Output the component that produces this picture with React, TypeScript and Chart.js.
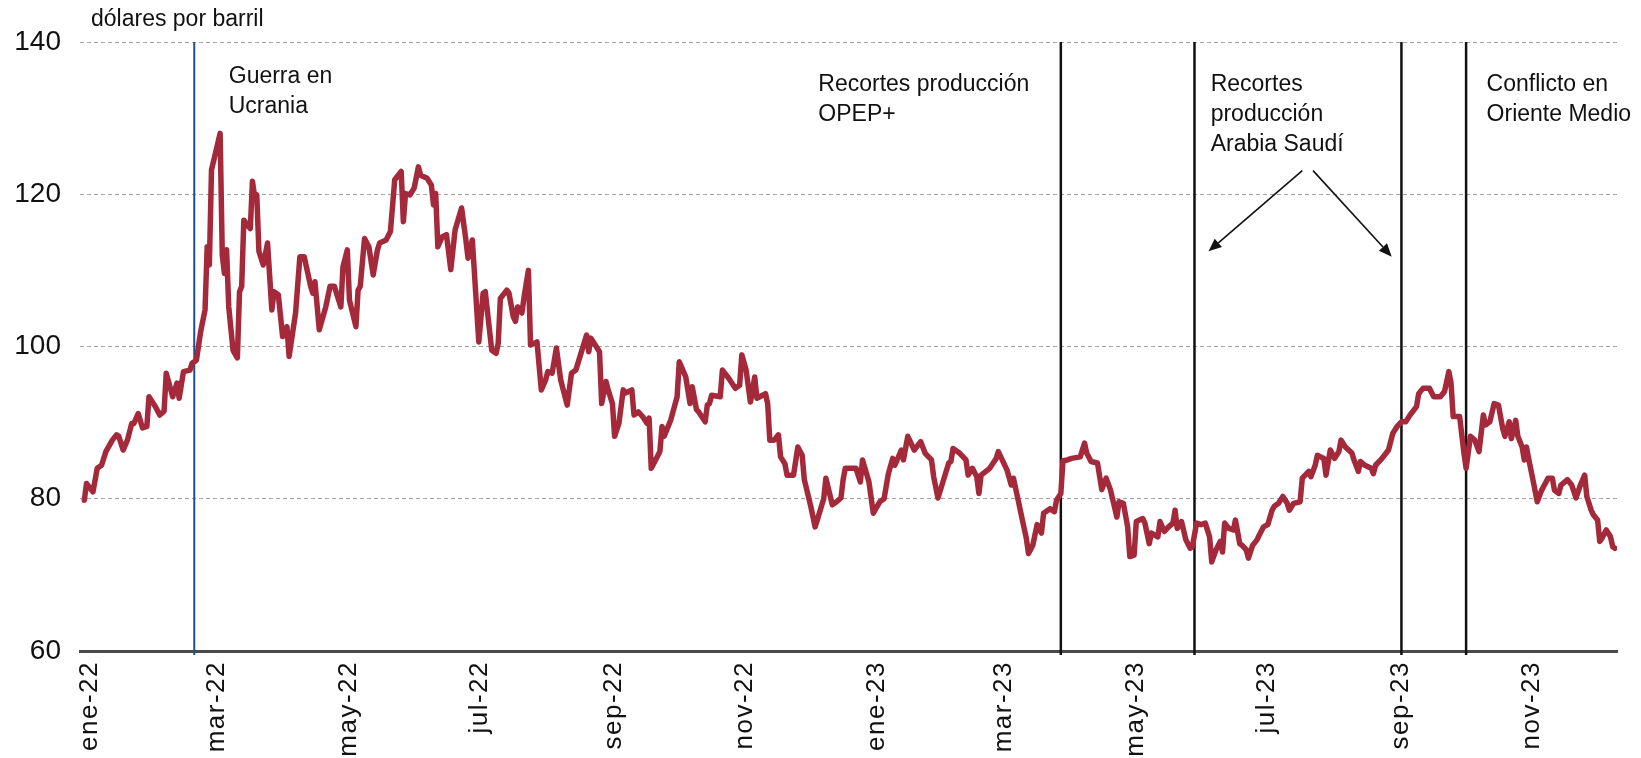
import React, { useEffect, useRef } from "react";
import { Chart, registerables } from "chart.js";

Chart.register(...registerables);

const FONT = "'Liberation Sans', Arial, Helvetica, sans-serif";

// Brent price, dollars per barrel. x = days since 2022-01-01
const days2022 = [
  2, 3, 6, 8, 10, 12, 15, 17, 18, 20, 22, 24, 25, 27, 29, 31, 32, 35, 37, 39,
  40, 43, 45, 46, 48, 51, 52, 54, 56, 58, 59, 60, 61, 65, 66, 67, 68, 69, 71, 73,
  74, 75, 76, 77, 79, 80, 81, 82, 83, 85, 87, 89, 90, 92, 94, 96, 97, 100, 102, 104,
  107, 108, 109, 111, 114, 116, 118, 121, 122, 124, 125, 128, 129, 130, 132, 134, 136, 138, 139, 142,
  144, 146, 149, 150, 151, 153, 155, 157, 158, 161, 163, 164, 165, 166, 168, 170, 172, 174, 177, 179,
  180, 182, 185, 187, 188, 191, 193, 194, 195, 198, 199, 201, 202, 203, 205, 206, 208, 209, 212, 214,
  216, 217, 219, 221, 223, 226, 228, 230, 235, 236, 237, 241, 242, 244, 245, 247, 248, 250, 252, 253,
  256, 257, 259, 261, 263, 264, 265, 267, 269, 270, 271, 274, 277, 278, 281, 283, 284, 286, 287, 290,
  291, 292, 293, 297, 298, 301, 304, 306, 307, 309, 311, 313, 314, 318, 319, 320, 322, 324, 325, 327,
  328, 331, 333, 335, 336, 339, 341, 342, 345, 346, 349, 351, 353, 354, 355, 360, 362, 363,
];
const brent2022 = [
  79.8, 82.0, 80.9, 84.0, 84.4, 86.2, 87.7, 88.4, 88.2, 86.4, 87.7, 89.9, 89.9, 91.2, 89.3, 89.5, 93.4, 92.1, 91.0, 91.5,
  96.5, 93.4, 95.2, 93.2, 96.7, 96.9, 97.8, 98.2, 102.0, 104.8, 113.1, 110.7, 123.2, 128.0, 112.0, 109.6, 112.7, 105.2, 99.5, 98.5,
  107.2, 107.9, 116.6, 116.2, 115.5, 121.7, 119.7, 119.9, 112.5, 110.7, 113.6, 104.8, 107.2, 106.8, 101.3, 102.6, 98.7, 104.4, 111.8, 111.8,
  107.9, 107.0, 108.5, 102.2, 105.2, 107.9, 107.9, 105.2, 110.5, 112.7, 106.1, 102.6, 107.4, 107.9, 114.2, 113.1, 109.4, 112.7, 113.6, 114.0,
  115.1, 121.9, 123.0, 116.4, 120.1, 119.9, 120.8, 123.6, 122.5, 122.1, 121.2, 118.6, 120.1, 113.1, 114.4, 114.7, 110.1, 115.3, 118.2, 114.0,
  111.6, 114.0, 100.6, 107.0, 107.2, 99.5, 99.1, 100.4, 106.3, 107.4, 107.0, 103.9, 103.3, 105.2, 104.4, 106.5, 110.0, 100.2, 100.6, 94.3,
  95.6, 96.7, 96.5, 99.8, 95.6, 92.3, 96.5, 96.9, 101.5, 99.3, 101.1, 99.3, 92.5, 95.4, 94.3, 92.5, 88.2, 89.9, 94.3, 93.9,
  94.3, 91.0, 91.4, 90.8, 89.9, 90.6, 84.0, 85.1, 86.2, 89.5, 88.2, 90.3, 93.4, 98.0, 96.0, 92.5, 94.7, 91.7, 91.4, 90.1,
  92.3, 92.5, 93.6, 93.4, 96.9, 95.8, 94.5, 94.9, 98.9, 96.9, 92.7, 96.0, 93.2, 93.8, 92.5, 87.7, 87.7, 88.4, 85.5, 84.6,
  83.1, 83.1, 86.8, 85.7, 82.5, 79.0, 76.3, 77.2, 80.0, 82.7, 79.2, 79.6, 80.1, 82.5, 84.0, 84.0, 82.2, 85.1,
];
const days2023 = [
  366, 368, 371, 373, 375, 377, 378, 381, 382, 384, 387, 390, 392, 395, 396, 398, 403, 404, 405, 408,
  411, 412, 414, 416, 417, 418, 422, 425, 426, 430, 432, 433, 435, 437, 439, 440, 442, 444, 446, 447,
  450, 452, 453, 455, 456, 458, 460, 464, 465, 466, 467, 469, 472, 474, 476, 478, 481, 482, 484, 486,
  487, 489, 490, 493, 494, 496, 497, 500, 501, 503, 505, 507, 508, 509, 511, 513, 515, 516, 518, 520,
  522, 524, 525, 527, 529, 530, 531, 533, 535, 536, 538, 539, 541, 542, 544, 546, 547, 549, 551, 553,
  554, 556, 558, 560, 561, 563, 566, 567, 570, 571, 573, 574, 577, 578, 580, 582, 584, 585, 587, 590,
  591, 593, 594, 596, 599, 600, 601, 604, 607, 609, 611, 613, 615, 617, 620, 621, 623, 626, 628, 631,
  633, 635, 636, 637, 640, 642, 643, 645, 647, 649, 651, 652, 654, 656, 658, 660, 661, 663, 664, 666,
  667, 669, 670, 671, 672, 674, 676, 678, 681, 683, 684, 686, 687, 690, 692, 694, 696, 698, 699, 701,
  702, 704, 705, 706, 708, 710, 711, 712,
];
const brent2023 = [
  82.2, 78.1, 79.6, 80.0, 83.3, 85.3, 84.4, 86.4, 85.1, 88.2, 86.4, 87.5, 86.0, 85.1, 82.9, 80.1, 84.7, 84.9, 86.6, 86.0,
  85.1, 83.1, 84.0, 82.9, 80.7, 83.1, 84.0, 85.3, 86.2, 83.8, 81.8, 82.7, 80.1, 77.4, 74.8, 72.8, 73.9, 76.6, 75.5, 78.1,
  78.7, 78.3, 79.8, 80.7, 85.0, 85.1, 85.3, 85.5, 86.4, 87.3, 86.0, 84.9, 84.7, 81.2, 82.7, 81.2, 77.6, 79.6, 79.4, 76.3,
  72.4, 72.6, 77.0, 77.4, 76.8, 74.1, 75.5, 75.0, 77.0, 75.7, 76.3, 76.8, 78.5, 76.1, 77.0, 74.6, 73.5, 73.7, 76.8, 76.6,
  76.8, 75.0, 71.7, 73.3, 74.4, 73.0, 76.8, 76.1, 75.9, 77.2, 74.1, 73.9, 73.3, 72.2, 73.9, 74.6, 75.2, 76.3, 76.6, 78.5,
  79.0, 79.4, 80.3, 79.4, 78.5, 79.4, 79.6, 82.7, 83.6, 82.9, 84.4, 85.7, 85.3, 83.1, 86.4, 85.3, 86.2, 87.7, 86.8, 86.0,
  85.1, 83.6, 84.9, 84.4, 84.0, 83.3, 84.4, 85.3, 86.4, 88.6, 89.5, 90.1, 90.1, 91.0, 92.1, 93.8, 94.5, 94.5, 93.4, 93.4,
  94.1, 96.7, 95.2, 90.8, 90.8, 86.0, 84.0, 88.2, 87.7, 86.2, 91.0, 89.7, 90.1, 92.5, 92.3, 89.2, 88.2, 90.1, 87.9, 90.3,
  88.2, 86.8, 85.1, 86.8, 85.3, 82.5, 79.6, 81.1, 82.7, 82.7, 81.1, 80.7, 81.8, 82.5, 81.8, 80.1, 81.8, 83.1, 80.3, 78.5,
  77.9, 77.2, 74.4, 74.8, 75.9, 75.0, 73.7, 73.5,
];

// x axis: month starts (days since 2022-01-01) and their labels
const tickDays = [0, 59, 120, 181, 243, 304, 365, 424, 485, 546, 608, 669];
const tickLabels = [
  "ene-22", "mar-22", "may-22", "jul-22", "sep-22", "nov-22",
  "ene-23", "mar-23", "may-23", "jul-23", "sep-23", "nov-23",
];
const yMin = 60;
const yMax = 140;
const yStep = 20;

// event markers
const eventDays = [53, 455, 517, 613, 643];
const eventColors = ["#1f4f92", "#111111", "#111111", "#111111", "#111111"];

// annotation texts, anchored at (day, price of first baseline)
const annotationTexts = [
  ["Guerra en", "Ucrania"],
  ["Recortes producción", "OPEP+"],
  ["Recortes", "producción", "Arabia Saudí"],
  ["Conflicto en", "Oriente Medio"],
];
const annotationDays = [69, 342.5, 524.5, 652.5];
const annotationPrices = [134.6, 133.6, 133.6, 133.6];

// arrows (day, price) from -> to
const arrowFromDays = [567, 572];
const arrowFromPrices = [123.1, 123.1];
const arrowToDays = [523.5, 608.5];
const arrowToPrices = [112.5, 111.8];

const unitLabel = "dólares por barril";

function buildPoints() {
  const d = days2022.concat(days2023);
  const p = brent2022.concat(brent2023);
  return d.map((x, i) => ({ x, y: p[i] }));
}

const overlayPlugin = {
  id: "overlay",
  beforeDatasetsDraw(chart: any) {
    const { ctx, chartArea, scales } = chart;
    const xs = scales.x;
    ctx.save();
    eventDays.forEach((d, i) => {
      const px = xs.getPixelForValue(d);
      ctx.strokeStyle = eventColors[i];
      ctx.lineWidth = i === 0 ? 2 : 2.5;
      ctx.beginPath();
      ctx.moveTo(px, chartArea.top);
      ctx.lineTo(px, chartArea.bottom + 4);
      ctx.stroke();
    });
    ctx.restore();
  },
  afterDraw(chart: any) {
    const { ctx, chartArea, scales } = chart;
    const xs = scales.x;
    const ys = scales.y;
    ctx.save();
    ctx.fillStyle = "#111111";

    // unit label
    ctx.font = `23px ${FONT}`;
    ctx.textAlign = "left";
    ctx.textBaseline = "alphabetic";
    ctx.fillText(unitLabel, chartArea.left + 11, 26);

    // annotations
    ctx.font = `23px ${FONT}`;
    annotationTexts.forEach((lines, i) => {
      const px = xs.getPixelForValue(annotationDays[i]);
      const py = ys.getPixelForValue(annotationPrices[i]);
      lines.forEach((t, j) => ctx.fillText(t, px, py + j * 30));
    });

    // arrows
    ctx.strokeStyle = "#111111";
    ctx.lineWidth = 1.6;
    arrowFromDays.forEach((_, i) => {
      const x1 = xs.getPixelForValue(arrowFromDays[i]);
      const y1 = ys.getPixelForValue(arrowFromPrices[i]);
      const x2 = xs.getPixelForValue(arrowToDays[i]);
      const y2 = ys.getPixelForValue(arrowToPrices[i]);
      const ang = Math.atan2(y2 - y1, x2 - x1);
      const head = 13;
      const hw = 5.5;
      const bx = x2 - head * Math.cos(ang);
      const by = y2 - head * Math.sin(ang);
      ctx.beginPath();
      ctx.moveTo(x1, y1);
      ctx.lineTo(bx, by);
      ctx.stroke();
      ctx.beginPath();
      ctx.moveTo(x2, y2);
      ctx.lineTo(bx + hw * Math.sin(ang), by - hw * Math.cos(ang));
      ctx.lineTo(bx - hw * Math.sin(ang), by + hw * Math.cos(ang));
      ctx.closePath();
      ctx.fill();
    });

    // rotated x labels
    ctx.font = `26px ${FONT}`;
    (ctx as any).letterSpacing = "1.5px";
    ctx.textAlign = "right";
    ctx.textBaseline = "middle";
    tickDays.forEach((d, i) => {
      const px = xs.getPixelForValue(d) + 10;
      ctx.save();
      ctx.translate(px, chartArea.bottom + 10);
      ctx.rotate(-Math.PI / 2);
      ctx.fillText(tickLabels[i], 0, 0);
      ctx.restore();
    });
    ctx.restore();
  },
};

export default function App() {
  const canvasRef = useRef<HTMLCanvasElement | null>(null);

  useEffect(() => {
    if (!canvasRef.current) return;
    const chart = new Chart(canvasRef.current, {
      type: "line",
      data: {
        datasets: [
          {
            data: buildPoints(),
            borderColor: "#a3293b",
            borderWidth: 5.5,
            pointRadius: 0,
            tension: 0,
            borderJoinStyle: "round",
            borderCapStyle: "round",
            fill: false,
          },
        ],
      },
      options: {
        animation: false,
        responsive: false,
        maintainAspectRatio: false,
        layout: { padding: { top: 42, right: 24, left: 0, bottom: 0 } },
        plugins: {
          legend: { display: false },
          tooltip: { enabled: false },
        },
        scales: {
          x: {
            type: "linear",
            min: 0,
            max: 713,
            grid: { display: false },
            ticks: { display: false },
            border: { display: true, color: "#4a4a4a", width: 3 },
            afterFit: (s: any) => {
              s.height = 107;
            },
          },
          y: {
            min: yMin,
            max: yMax,
            ticks: {
              stepSize: yStep,
              color: "#111111",
              padding: 19,
              font: { family: FONT, size: 28 },
            },
            grid: {
              color: "#a3a3a3",
              lineWidth: 1,
              drawTicks: false,
            },
            border: { display: false, dash: [4, 3] },
            afterFit: (s: any) => {
              s.width = 80;
            },
          },
        },
      },
      plugins: [overlayPlugin],
    });
    return () => chart.destroy();
  }, []);

  return (
    <div style={{ position: "absolute", left: 0, top: 0, width: 1641, height: 758, background: "#ffffff" }}>
      <canvas ref={canvasRef} width={1641} height={758} style={{ display: "block" }} />
    </div>
  );
}
